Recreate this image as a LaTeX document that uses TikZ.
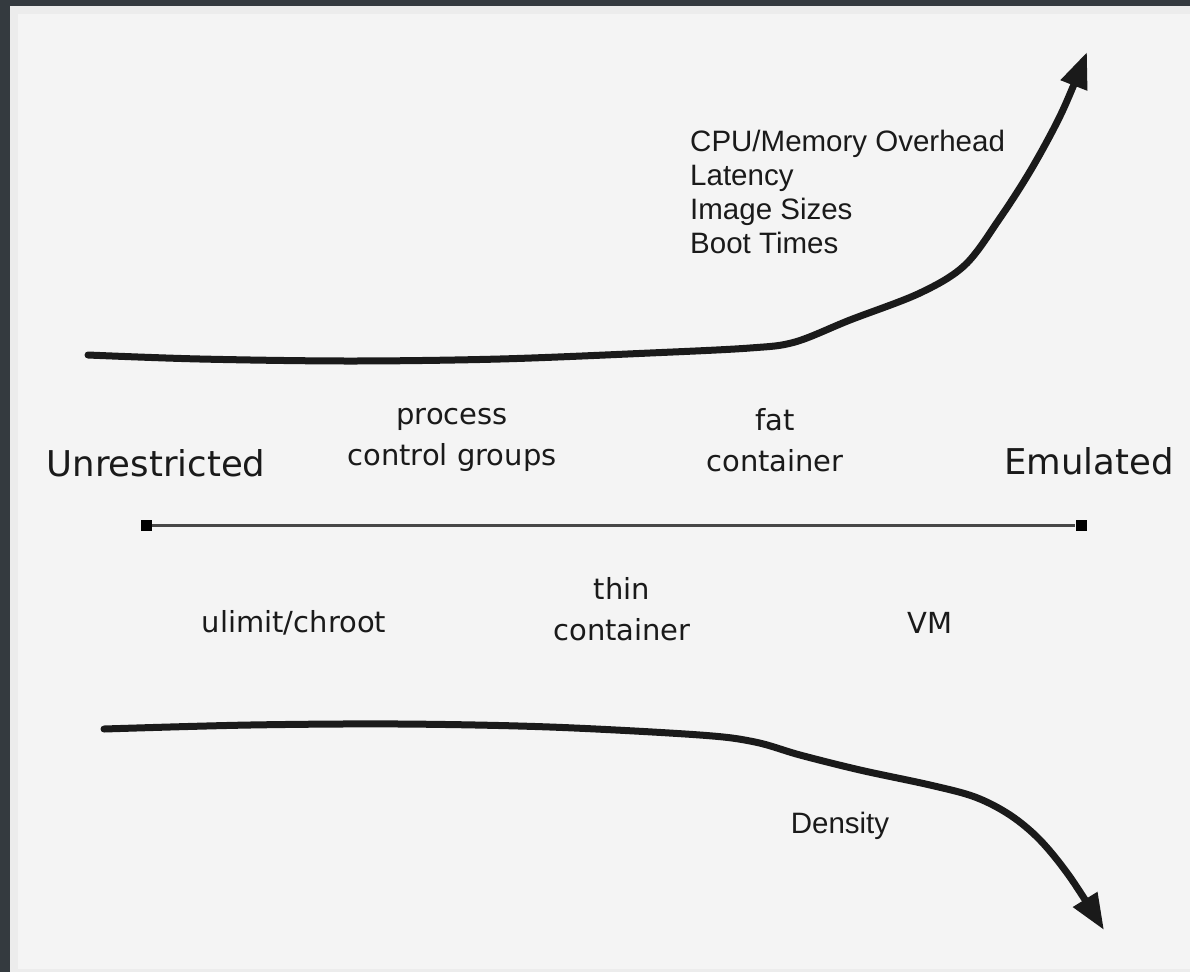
\documentclass[tikz,border=0pt]{standalone}
\usepackage{fontspec}
\usetikzlibrary{arrows.meta}
\newfontfamily\wideface{DejaVu Sans}
\newfontfamily\plainface{Liberation Sans}
\definecolor{frame}{HTML}{343A3F}
\definecolor{band}{HTML}{ECECEC}
\definecolor{paper}{HTML}{F4F4F4}
\definecolor{ink}{HTML}{1A1A1A}
\tikzset{
  scale label/.style={font=\wideface\fontsize{29}{41}\selectfont, text=ink, align=center, inner sep=0pt},
  end label/.style={font=\wideface\fontsize{35.5}{42}\selectfont, text=ink, inner sep=0pt},
  trend label/.style={font=\plainface\fontsize{29.5}{34}\selectfont, text=ink, align=left, inner sep=0pt},
  trend/.style={line width=7pt, ink, line cap=round, -{Triangle[length=36pt,width=27pt]}},
  endmark/.style={fill=black, minimum size=11pt, inner sep=0pt}
}
\begin{document}
\begin{tikzpicture}[x=1pt,y=-1pt]
  \useasboundingbox (0,0) rectangle (1190,972);
  % window frame and page
  \fill[frame] (0,0) rectangle (1190,972);
  \fill[band] (10,6) rectangle (1190,972);
  \fill[paper] (18,14) rectangle (1190,969);

  % restriction scale
  \node[endmark] (lft) at (146,525) {};
  \node[endmark] (rgt) at (1081,525) {};
  \draw[line width=3pt, black!72] (lft) -- (rgt);

  \node[end label] (unr) at (156,463) {Unrestricted};
  \node[end label] (emu) at (1089,461) {Emulated};

  \node[scale label] (pcg) at (452,440) {process\\control groups};
  \node[scale label] (fat) at (775,440) {fat\\container};
  \node[scale label] (ulc) at (294,623) {ulimit/chroot};
  \node[scale label] (thn) at (622,609) {thin\\container};
  \node[scale label] (vm)  at (930,623) {VM};

  % overhead rises towards emulation
  \draw[trend] plot[smooth, tension=0.55] coordinates {
    (88,355) (200,359) (350,361) (500,359) (650,353) (750,348) (795,342)
    (850,320) (920,293) (965,265) (1000,218) (1032,168) (1062,112) (1087,52)};
  \node[trend label, anchor=north west] (ovh) at (690,130)
    {CPU/Memory Overhead\\Latency\\Image Sizes\\Boot Times};

  % density falls towards emulation
  \draw[trend] plot[smooth, tension=0.55] coordinates {
    (104,729) (250,725) (400,724) (550,727) (700,735) (755,742) (800,755)
    (860,770) (930,785) (975,797) (1010,815) (1040,840) (1070,877) (1104,930)};
  \node[trend label] (den) at (840,826) {Density};
\end{tikzpicture}
\end{document}
